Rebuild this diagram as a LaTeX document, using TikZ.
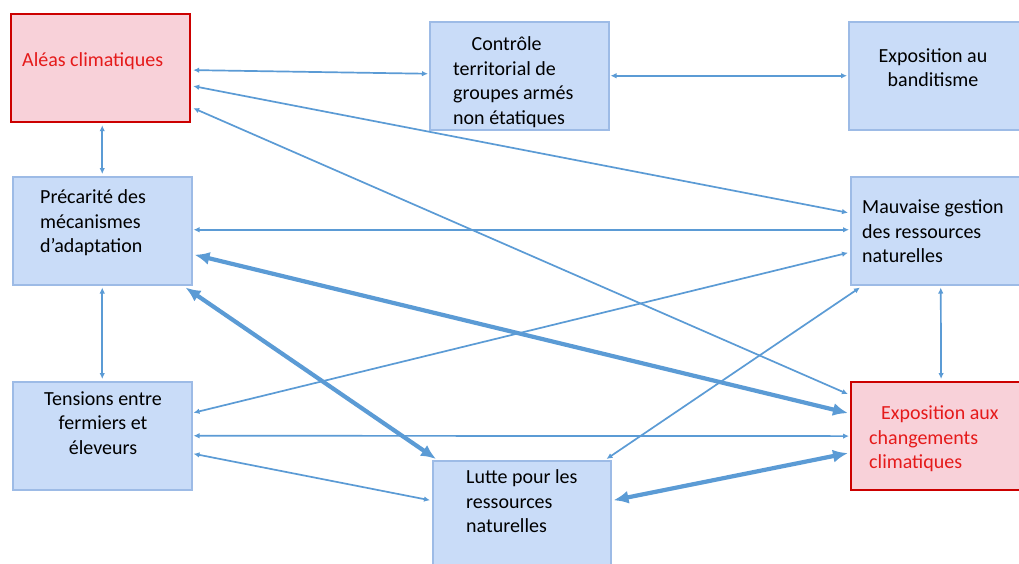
\documentclass[tikz,border=0pt]{standalone}
\usepackage{fontspec}
\setmainfont{Carlito}
\usetikzlibrary{arrows.meta}
\definecolor{lineblue}{HTML}{5B9BD5}
\definecolor{boxblue}{HTML}{C9DCF8}
\definecolor{boxblueedge}{HTML}{9DBBE6}
\definecolor{boxpink}{HTML}{F8D1D9}
\definecolor{boxred}{HTML}{CC0000}
\definecolor{txtred}{HTML}{E51A1A}
\tikzset{
  bluebox/.style={draw=boxblueedge, fill=boxblue, line width=1.5pt, anchor=north west, inner sep=0pt},
  redbox/.style={draw=boxred, fill=boxpink, line width=2.2pt, anchor=north west, inner sep=0pt},
  lbl/.style={anchor=base west, inner sep=0pt, align=left, font=\fontsize{20}{24.5}\selectfont},
  clbl/.style={anchor=base, inner sep=0pt, align=center, font=\fontsize{20}{24.5}\selectfont},
  link/.style={draw=lineblue, line width=1.7pt, {Latex[length=6pt,width=5.5pt]}-{Latex[length=6pt,width=5.5pt]}},
  biglink/.style={draw=lineblue, line width=4.2pt, {Latex[length=15pt,width=13pt]}-{Latex[length=15pt,width=13pt]}}
}
\begin{document}
\begin{tikzpicture}[x=1pt,y=-1pt]
\useasboundingbox (0,0) rectangle (1019,563);
\clip (0,0) rectangle (1019,563);
\fill[white] (0,0) rectangle (1019,563);

% boxes
\node[redbox, minimum width=179pt, minimum height=108pt] (aleas) at (10,13) {};
\node[bluebox, minimum width=179pt, minimum height=108pt] (ctrl) at (429,21) {};
\node[bluebox, minimum width=180pt, minimum height=108pt] (band) at (848,21) {};
\node[bluebox, minimum width=179pt, minimum height=108pt] (prec) at (12,176) {};
\node[bluebox, minimum width=180pt, minimum height=108pt] (mauv) at (850,176) {};
\node[bluebox, minimum width=179pt, minimum height=108pt] (tens) at (12,381) {};
\node[redbox, minimum width=180pt, minimum height=108pt] (expo) at (850,381) {};
\node[bluebox, minimum width=178pt, minimum height=115pt] (lutte) at (432,460) {};

% texts (anchor = baseline of last line)
\node[lbl, text=txtred] (taleas) at (22,66) {Aléas climatiques};
\node[lbl] (tctrl) at (453,124) {\hspace*{18.5pt}Contrôle\\territorial de\\groupes armés\\non étatiques};
\node[clbl] (tband) at (933,86.5) {Exposition au\\banditisme};
\node[lbl] (tprec) at (40,252.5) {Précarité des\\mécanismes\\d’adaptation};
\node[lbl] (tmauv) at (862,262.5) {Mauvaise gestion\\des ressources\\naturelles};
\node[clbl] (ttens) at (103,454) {Tensions entre\\fermiers et\\éleveurs};
\node[lbl, text=txtred] (texpo) at (869,468.5) {\hspace*{12pt}Exposition aux\\changements\\climatiques};
\node[lbl] (tlutte) at (466,532.5) {Lutte pour les\\ressources\\naturelles};

% thin connectors
\draw[link] ([xshift=2pt,yshift=-2pt]aleas.east) -- ([xshift=-1pt,yshift=2pt]ctrl.west);
\draw[link] ([xshift=1pt]ctrl.east) -- ([xshift=-1pt]band.west);
\draw[link] ([xshift=2pt,yshift=-18pt]aleas.east) -- ([xshift=-2pt,yshift=18pt]mauv.west);
\draw[link] ([xshift=2pt,yshift=-40pt]aleas.east) -- ([xshift=-2pt,yshift=42pt]expo.west);
\draw[link] ([yshift=-2pt]prec.north |- aleas.south) -- ([yshift=2pt]prec.north);
\draw[link] ([xshift=1pt,yshift=1pt]prec.east) -- ([xshift=-1pt,yshift=1pt]mauv.west);
\draw[link] ([yshift=-2pt]prec.south) -- ([yshift=2pt]tens.north);
\draw[link] ([xshift=1pt,yshift=23pt]tens.east) -- ([xshift=-2pt,yshift=-22pt]mauv.west);
\draw[link] ([xshift=1pt]tens.east) -- ([xshift=-1pt]expo.west);
\draw[link] ([xshift=1pt,yshift=-18pt]tens.east) -- ([xshift=-2pt,yshift=18pt]lutte.west);
\draw[link] ([xshift=-5pt,yshift=1pt]lutte.north east) -- ([xshift=10pt,yshift=-2pt]mauv.south west);
\draw[link] ([yshift=-2pt]mauv.south) -- ([yshift=2pt]expo.north);

% thick connectors
\draw[biglink] ([xshift=2pt,yshift=-24pt]prec.east) -- ([xshift=-2pt,yshift=23pt]expo.west);
\draw[biglink] ([xshift=-7pt,yshift=-2pt]prec.south east) -- ([xshift=4pt,yshift=1pt]lutte.north west);
\draw[biglink] ([xshift=2pt,yshift=18pt]lutte.east) -- ([xshift=-2pt,yshift=-17pt]expo.west);
\end{tikzpicture}
\end{document}
